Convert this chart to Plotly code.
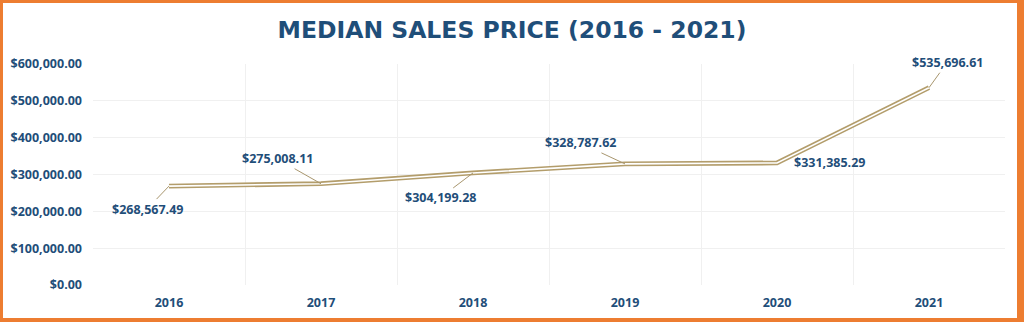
import plotly.graph_objects as go

years = ["2016", "2017", "2018", "2019", "2020", "2021"]
prices = [268567.49, 275008.11, 304199.28, 328787.62, 331385.29, 535696.61]
y_ticks = [0, 100000, 200000, 300000, 400000, 500000, 600000]
y_tick_labels = ["$%s" % format(v, ",.2f") for v in y_ticks]
label_texts = ["$%s" % format(v, ",.2f") for v in prices]
# pixel offsets of data labels from their points
label_dx = [-22, -44, -33, -45, 48, 18]
label_dy = [23, -25, 25, -21, 0, -25]

W, H = 1024, 322
ML, MR, MT, MB = 93, 19, 64, 37
PW, PH = W - ML - MR, H - MT - MB

BLUE = "#1F4E79"
TAN = "#B39D6B"
ORANGE = "#ED7D31"
FONT = "Open Sans"
LFONT = dict(family=FONT, size=12.5, color=BLUE, weight="bold")

fig = go.Figure()
fig.add_trace(go.Scatter(x=years, y=prices, mode="lines",
                         line=dict(color=TAN, width=4.8), hoverinfo="skip"))
fig.add_trace(go.Scatter(x=years, y=prices, mode="lines",
                         line=dict(color="white", width=1.6), hoverinfo="skip"))

annotations = []
for i, v in enumerate(prices):
    if label_dy[i] == 0:
        annotations.append(dict(x=i, y=v, xref="x", yref="y", text=label_texts[i],
                                showarrow=False, xanchor="left", xshift=15,
                                font=LFONT))
    else:
        annotations.append(dict(x=i, y=v, xref="x", yref="y", text=label_texts[i],
                                showarrow=True, ax=label_dx[i], ay=label_dy[i],
                                arrowhead=0, arrowwidth=1, arrowcolor="#A8966E",
                                font=LFONT))

def px2paper_x(p):
    return (p - ML) / PW

def px2paper_y(p):
    return (H - MB - p) / PH

shapes = []
for (x0, y0, x1, y1) in [(0, 0, 3, H), (1017, 0, W, H), (0, 0, W, 3), (0, 318, W, H)]:
    shapes.append(dict(type="rect", xref="paper", yref="paper",
                       x0=px2paper_x(x0), x1=px2paper_x(x1),
                       y0=px2paper_y(y1), y1=px2paper_y(y0),
                       fillcolor=ORANGE, line=dict(width=0), layer="above"))

fig.update_layout(
    width=W, height=H,
    margin=dict(l=ML, r=MR, t=MT, b=MB),
    paper_bgcolor="white", plot_bgcolor="white",
    showlegend=False,
    annotations=annotations,
    shapes=shapes,
    title=dict(text="MEDIAN SALES PRICE (2016 - 2021)", x=0.5, xref="container",
               xanchor="center", y=1 - 30 / H, yanchor="middle",
               font=dict(family="DejaVu Sans", size=23.5, color=BLUE, weight="bold")),
    font=dict(family=FONT, size=12, color=BLUE),
)
fig.update_xaxes(type="category", range=[-0.5, 5.5], tickson="boundaries",
                 showgrid=True, gridcolor="#F0F0F0", gridwidth=1,
                 showline=False, zeroline=False, ticks="", ticklabelstandoff=8,
                 tickfont=LFONT)
fig.update_yaxes(range=[0, 600000], tickvals=y_ticks, ticktext=y_tick_labels,
                 showgrid=True, gridcolor="#F0F0F0", gridwidth=1,
                 zeroline=False, showline=False, ticks="", ticklabelstandoff=10,
                 tickfont=LFONT)

fig.write_html("out.html")
